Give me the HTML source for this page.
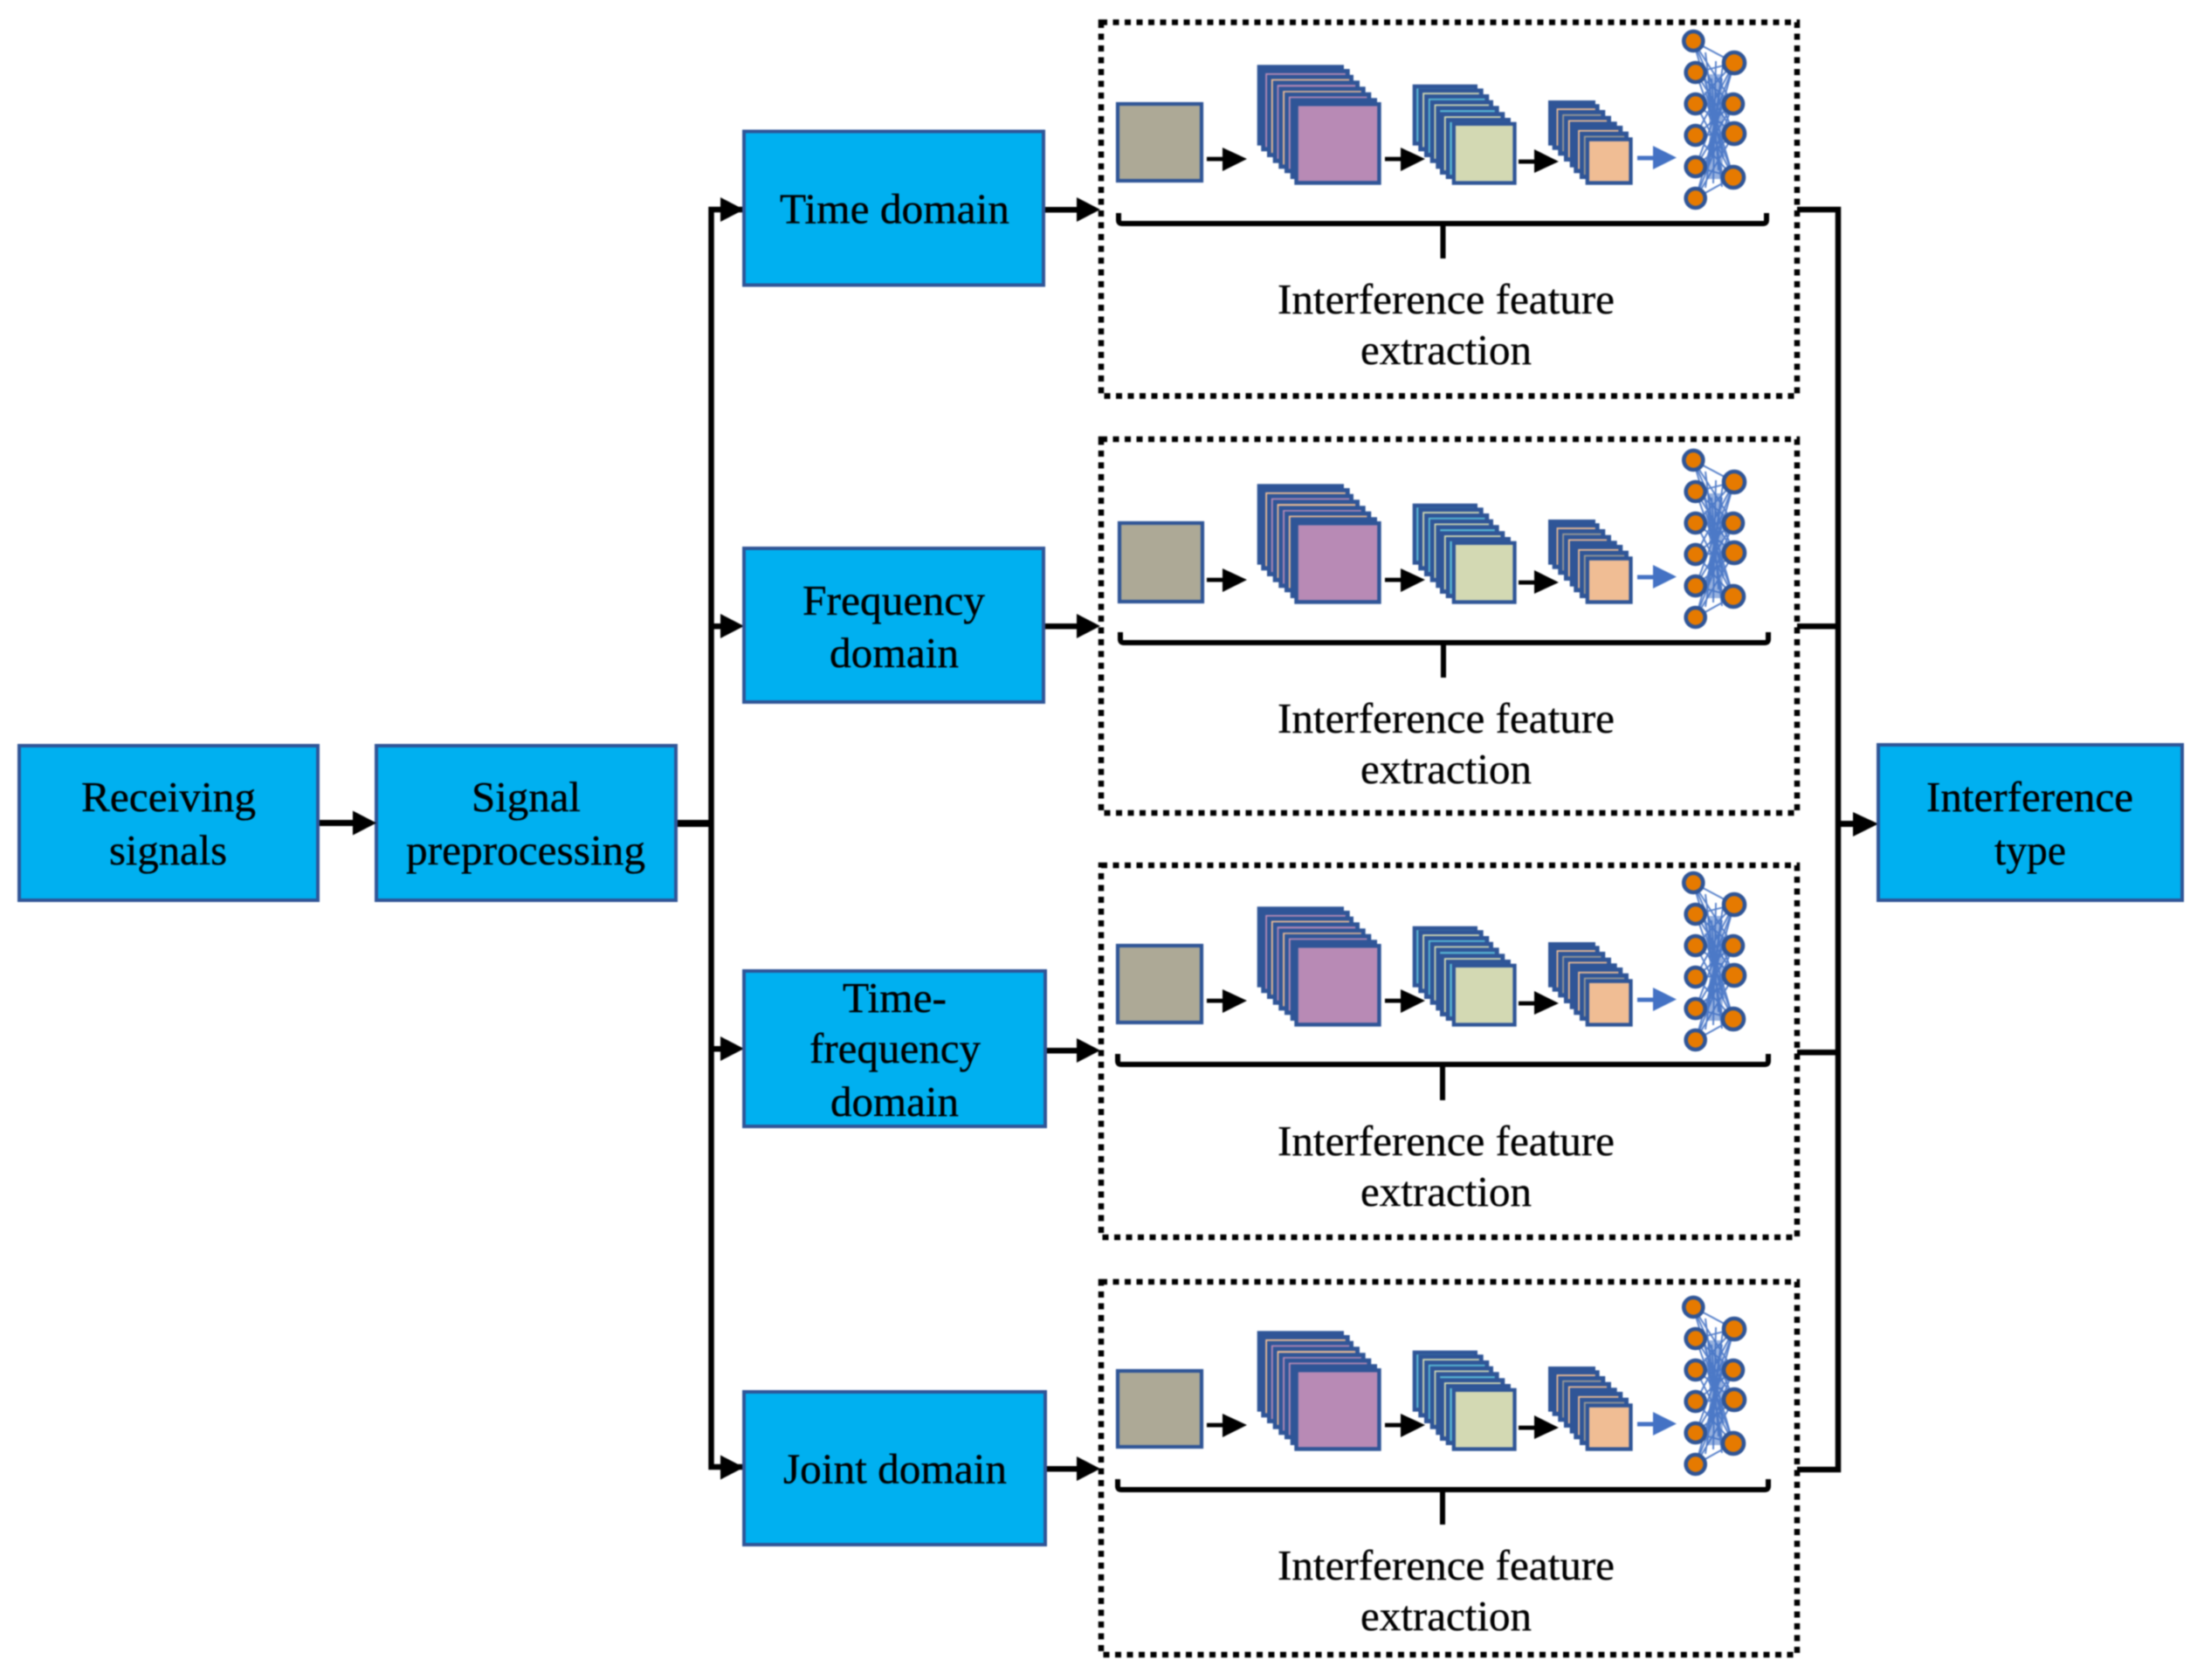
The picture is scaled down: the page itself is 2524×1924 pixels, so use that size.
<!DOCTYPE html>
<html><head><meta charset="utf-8"><title>Interference recognition diagram</title>
<style>
html,body{margin:0;padding:0;background:#fff;width:2524px;height:1924px;overflow:hidden}
svg{display:block;filter:blur(.7px)}
text{font-family:"Liberation Serif",serif;font-size:48.5px;fill:#000;stroke:#000;stroke-width:.35px}
.b{fill:#00B0F0;stroke:#2F5597;stroke-width:4}
.d{fill:none;stroke:#000;stroke-width:6.5;stroke-dasharray:7 6.5}
.o{fill:#2F5597}
.pu{fill:#B88AB5}.pe{fill:#F0BD94}.cy{fill:#5BBCD6}.pg{fill:#D3D9B3}.gr{fill:#9A9A96}
.s2{fill:var(--s2)}.s3{fill:var(--s3)}.s4{fill:var(--s4)}.s5{fill:var(--s5)}.s6{fill:var(--s6)}
</style></head><body>
<svg xmlns="http://www.w3.org/2000/svg" width="2524" height="1924" viewBox="0 0 2524 1924">
<rect width="2524" height="1924" fill="#fff"/>
<defs>
<g id="unit">
<!-- purple stack -->
<rect class="o" x="1439.7" y="74.3" width="99.3" height="92.4"/>
<rect class="o" x="1444.3" y="79" width="101.4" height="94.3"/><rect class="s2" x="1449.2" y="83.9" width="91.6" height="84.5"/>
<rect class="o" x="1451" y="85.7" width="99" height="94.3"/><rect class="s3" x="1455.9" y="90.6" width="89.2" height="84.5"/>
<rect class="o" x="1457.7" y="92.3" width="99.3" height="94.4"/><rect class="s4" x="1462.6" y="97.2" width="89.5" height="84.6"/>
<rect class="o" x="1464.3" y="99.3" width="99.4" height="94"/><rect class="s5" x="1469.2" y="104.2" width="89.6" height="84.2"/>
<rect class="o" x="1471" y="105.7" width="99.3" height="92.6"/><rect class="s6" x="1475.9" y="110.6" width="89.5" height="82.8"/>
<rect class="o" x="1477.7" y="112.3" width="99.3" height="92.7"/>
<rect class="o" x="1482.3" y="117" width="99.4" height="94.7"/><rect class="pu" x="1486.8" y="121.5" width="90.4" height="85.7"/>
<!-- green stack -->
<rect class="o" x="1617.7" y="96.7" width="74.3" height="70"/><rect class="cy" x="1622.2" y="101.2" width="65.8" height="61"/>
<rect class="o" x="1624.3" y="101.3" width="74.4" height="72"/><rect class="pg" x="1629.2" y="106.2" width="64.6" height="62.2"/>
<rect class="o" x="1631" y="108" width="74.3" height="72"/><rect class="cy" x="1635.9" y="112.9" width="64.5" height="62.2"/>
<rect class="o" x="1637.7" y="114.7" width="72.3" height="72"/><rect class="pg" x="1642.6" y="119.6" width="62.5" height="62.2"/>
<rect class="o" x="1644.3" y="121.3" width="72.4" height="72"/><rect class="cy" x="1649.2" y="126.2" width="62.6" height="62.2"/>
<rect class="o" x="1649" y="128.3" width="74.3" height="71.7"/><rect class="pg" x="1653.9" y="133.2" width="64.5" height="61.9"/>
<rect class="o" x="1655.7" y="135" width="74.3" height="70"/><rect class="cy" x="1660.4" y="139.9" width="64.7" height="60.2"/>
<rect class="o" x="1662.7" y="139.7" width="74" height="72"/><rect class="pg" x="1667" y="144" width="65.4" height="63.4"/>
<!-- orange stack -->
<rect class="o" x="1773" y="115" width="54" height="51.7"/>
<rect class="o" x="1777.7" y="119.3" width="54" height="52.4"/><rect class="pe" x="1782.6" y="124.2" width="44.2" height="42.6"/>
<rect class="o" x="1784.3" y="126" width="54" height="52.3"/><rect class="gr" x="1789.2" y="130.9" width="44.2" height="42.5"/>
<rect class="o" x="1791" y="132.7" width="54" height="52.3"/><rect class="pe" x="1795.9" y="137.6" width="44.2" height="42.5"/>
<rect class="o" x="1797.7" y="139.3" width="54" height="52.4"/><rect class="gr" x="1802.6" y="144.2" width="44.2" height="42.6"/>
<rect class="o" x="1802.3" y="144" width="56" height="54.3"/><rect class="pe" x="1807.2" y="148.9" width="46.2" height="44.5"/>
<rect class="o" x="1809" y="150.7" width="56" height="54.3"/><rect class="gr" x="1813.9" y="155.6" width="46.2" height="44.5"/>
<rect class="o" x="1815.7" y="157.3" width="54" height="54.4"/><rect class="pe" x="1820" y="161.8" width="45.4" height="45.6"/>
<!-- blue arrow -->
<rect x="1875" y="178.5" width="20" height="5" fill="#4472C4"/><polygon fill="#4472C4" points="1893,167 1920,180.5 1893,194"/>
<!-- network -->
<polygon fill="#4472C4" fill-opacity=".55" points="1955,85 1972,85 1974,150 1972,205 1955,205 1958,150"/>
<g stroke="#4472C4" stroke-width="1.9" stroke-opacity=".9">
<path fill="none" d="M1939 47L1986 72M1939 47L1985 119M1939 47L1986 153M1939 47L1985 203M1942 83L1986 72M1942 83L1985 119M1942 83L1986 153M1942 83L1985 203M1942 119L1986 72M1942 119L1985 119M1942 119L1986 153M1942 119L1985 203M1942 155L1986 72M1942 155L1985 119M1942 155L1986 153M1942 155L1985 203M1942 191L1986 72M1942 191L1985 119M1942 191L1986 153M1942 191L1985 203M1942 227L1986 72M1942 227L1985 119M1942 227L1986 153M1942 227L1985 203M1953 60L1972 214M1953 90L1972 200M1953 105L1974 180M1956 130L1974 165M1956 170L1974 110M1953 200L1972 90M1953 215L1973 75M1960 90L1968 195M1965 70L1962 210M1958 140L1972 140M1960 110L1970 170M1970 100L1960 180"/>
</g>
<g fill="#E67A00" stroke="#2F5597" stroke-width="4.6">
<circle cx="1939.3" cy="47" r="11"/><circle cx="1941.7" cy="83" r="11"/><circle cx="1941.7" cy="119" r="11"/><circle cx="1941.7" cy="155" r="11"/><circle cx="1941.7" cy="191" r="11"/><circle cx="1941.7" cy="227" r="11"/>
<circle cx="1986" cy="72" r="12"/><circle cx="1985" cy="119" r="11"/><circle cx="1986" cy="153" r="12"/><circle cx="1985" cy="203" r="12"/>
</g>
</g>
<g id="arr">
<rect x="1382" y="179.7" width="20" height="4.8"/><polygon points="1400,169 1428,182 1400,196"/>
<rect x="1586" y="179.7" width="20" height="4.8"/><polygon points="1604,169 1632,182 1604,196"/>
<rect x="1739" y="182.7" width="20" height="4.8"/><polygon points="1757,171 1785,185 1757,198"/>
</g>
<polygon id="hd" points="0,-14 27,0 0,14"/>
</defs>

<!-- left boxes -->
<rect class="b" x="22" y="854" width="342" height="177"/>
<text x="93" y="929" textLength="200" lengthAdjust="spacingAndGlyphs">Receiving</text>
<text x="125" y="990" textLength="135" lengthAdjust="spacingAndGlyphs">signals</text>
<rect class="b" x="431" y="854" width="343" height="177"/>
<text x="540" y="929" textLength="125" lengthAdjust="spacingAndGlyphs">Signal</text>
<text x="465" y="990" textLength="274" lengthAdjust="spacingAndGlyphs">preprocessing</text>
<rect x="366" y="939" width="40" height="7"/><use href="#hd" x="404" y="942.5"/>
<rect x="776" y="939" width="40" height="8"/>

<!-- left bus -->
<path d="M852 240H814.5V1680H852" fill="none" stroke="#000" stroke-width="6.5"/>
<rect x="814" y="714" width="14" height="6.5"/><rect x="814" y="1198" width="14" height="6.5"/>
<use href="#hd" x="825" y="240"/><use href="#hd" x="825" y="717"/><use href="#hd" x="825" y="1201"/><use href="#hd" x="825" y="1680.5"/>

<!-- domain boxes -->
<rect class="b" x="852" y="150.5" width="343" height="176"/>
<text x="893" y="255.5" textLength="263" lengthAdjust="spacingAndGlyphs">Time domain</text>
<rect class="b" x="852" y="628" width="343" height="176"/>
<text x="919" y="704" textLength="209" lengthAdjust="spacingAndGlyphs">Frequency</text>
<text x="950" y="764" textLength="148" lengthAdjust="spacingAndGlyphs">domain</text>
<rect class="b" x="852" y="1112" width="345" height="178"/>
<text x="965" y="1159" textLength="119" lengthAdjust="spacingAndGlyphs">Time-</text>
<text x="927" y="1217" textLength="196" lengthAdjust="spacingAndGlyphs">frequency</text>
<text x="951" y="1278" textLength="147" lengthAdjust="spacingAndGlyphs">domain</text>
<rect class="b" x="852" y="1594" width="345" height="175"/>
<text x="897" y="1698.5" textLength="256" lengthAdjust="spacingAndGlyphs">Joint domain</text>

<!-- arrows into panels -->
<rect x="1197" y="237" width="40" height="6.5"/><use href="#hd" x="1233" y="240"/>
<rect x="1197" y="714" width="40" height="6.5"/><use href="#hd" x="1233" y="717"/>
<rect x="1199" y="1200" width="38" height="6.5"/><use href="#hd" x="1233" y="1203"/>
<rect x="1199" y="1679" width="38" height="6.5"/><use href="#hd" x="1233" y="1682"/>

<!-- panels -->
<rect class="d" x="1261" y="25.5" width="797" height="428"/>
<rect class="d" x="1261" y="503" width="797" height="428"/>
<rect class="d" x="1261" y="991" width="797" height="426"/>
<rect class="d" x="1261" y="1468" width="797" height="427"/>

<use href="#unit" style="--s2:#B88AB5;--s3:#F0BD94;--s4:#B88AB5;--s5:#F0BD94;--s6:#B88AB5"/>
<use href="#unit" y="480" style="--s2:#F0BD94;--s3:#B88AB5;--s4:#F0BD94;--s5:#B88AB5;--s6:#F0BD94"/>
<use href="#unit" y="964" style="--s2:#B88AB5;--s3:#F0BD94;--s4:#B88AB5;--s5:#F0BD94;--s6:#B88AB5"/>
<use href="#unit" y="1450" style="--s2:#F0BD94;--s3:#B88AB5;--s4:#F0BD94;--s5:#B88AB5;--s6:#B88AB5"/>
<use href="#arr"/>
<use href="#arr" y="482"/>
<use href="#arr" y="964"/>
<use href="#arr" y="1450"/>

<g fill="#ADA996" stroke="#2F5597" stroke-width="4.2">
<rect x="1280" y="119" width="96" height="88"/>
<rect x="1282" y="599" width="95" height="90"/>
<rect x="1280" y="1083" width="96" height="88"/>
<rect x="1280" y="1570" width="96" height="87"/>
</g>

<!-- brackets -->
<g fill="none" stroke="#000" stroke-width="6">
<path d="M1281 244V252Q1281 256 1285 256H2019Q2023 256 2023 252V244"/>
<path d="M1283 724V732Q1283 736 1287 736H2021Q2025 736 2025 732V724"/>
<path d="M1280 1207V1215Q1280 1219 1284 1219H2021Q2025 1219 2025 1215V1207"/>
<path d="M1280 1694V1702Q1280 1706 1284 1706H2021Q2025 1706 2025 1702V1694"/>
<path d="M1652.5 256V296M1653 736V776M1652 1219V1260M1652 1706V1746"/>
</g>

<!-- panel text -->
<text x="1463" y="359" textLength="386" lengthAdjust="spacingAndGlyphs">Interference feature</text>
<text x="1558" y="417" textLength="196" lengthAdjust="spacingAndGlyphs">extraction</text>
<text x="1463" y="839" textLength="386" lengthAdjust="spacingAndGlyphs">Interference feature</text>
<text x="1558" y="897" textLength="196" lengthAdjust="spacingAndGlyphs">extraction</text>
<text x="1463" y="1323" textLength="386" lengthAdjust="spacingAndGlyphs">Interference feature</text>
<text x="1558" y="1381" textLength="196" lengthAdjust="spacingAndGlyphs">extraction</text>
<text x="1463" y="1809" textLength="386" lengthAdjust="spacingAndGlyphs">Interference feature</text>
<text x="1558" y="1867" textLength="196" lengthAdjust="spacingAndGlyphs">extraction</text>

<!-- right bus -->
<path d="M2058 240H2105V1683H2058" fill="none" stroke="#000" stroke-width="6.5"/>
<rect x="2058" y="714" width="47" height="6.5"/><rect x="2058" y="1202" width="47" height="6.5"/>
<rect x="2105" y="940" width="20" height="7"/><polygon points="2122,930 2151,943.5 2122,958"/>

<!-- output -->
<rect class="b" x="2151" y="853" width="348" height="178"/>
<text x="2206" y="929" textLength="237" lengthAdjust="spacingAndGlyphs">Interference</text>
<text x="2284" y="990" textLength="82" lengthAdjust="spacingAndGlyphs">type</text>
</svg>
</body></html>
